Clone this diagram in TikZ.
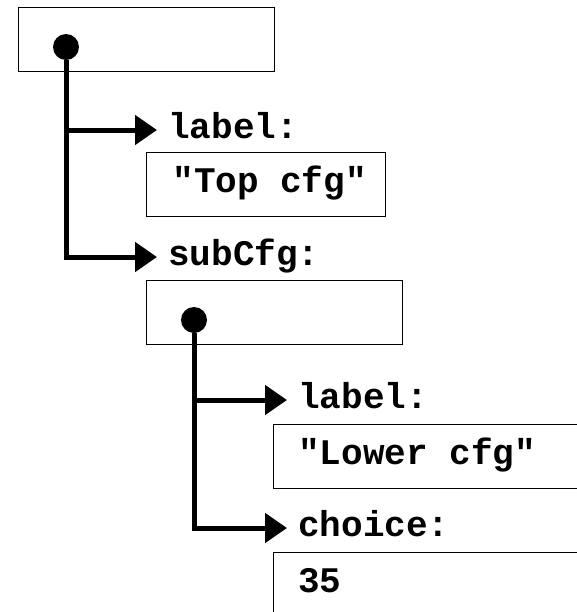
\documentclass[tikz,border=0pt]{standalone}
\usepackage{fontspec}
\setmonofont{Liberation Mono}
\usetikzlibrary{arrows.meta}

\begin{document}
\begin{tikzpicture}[x=0.5pt,y=-0.5pt,
    cell/.style={draw,line width=0.7pt,anchor=north west,minimum height=32pt,inner sep=0pt},
    dot/.style={circle,fill,inner sep=0pt,minimum size=13pt},
    mono/.style={font=\fontsize{18}{20}\selectfont\ttfamily\bfseries,text height=11pt,text depth=3pt,anchor=west},
    field/.style={mono,inner xsep=5.5pt,inner ysep=0pt},
    val/.style={mono,inner sep=0pt},
    link/.style={line width=2.5pt,-{Triangle[length=11pt,width=14.5pt]}}]
  %bildeflate
  	\clip (0,0) rectangle (577,612);

  %ytre cfg
  	\node[cell,minimum width=128pt] (topcfg) at (18,7) {};
  	\node[dot] (topdot) at (66,47) {};

  %felt label
  	\node[field] (toplabel) at (157,130) {label:};
  	\node[cell,minimum width=119.5pt] (topval) at (146,152) {};
  	\node[val] (toptxt) at ([xshift=13pt]topval.west) {"Top cfg"};

  %felt subCfg
  	\node[field] (topsub) at (157,257) {subCfg:};
  	\node[cell,minimum width=128pt] (subcfg) at (146,280) {};
  	\node[dot] (subdot) at (194,320) {};

  %indre felt label
  	\node[field] (sublabel) at (287,400) {label:};
  	\node[cell,minimum width=170pt] (subval) at (273,424) {};
  	\node[val] (subtxt) at ([xshift=12.5pt]subval.west) {"Lower cfg"};

  %indre felt choice
  	\node[field] (subchoice) at (287,528) {choice:};
  	\node[cell,minimum width=170pt] (choiceval) at (273,552) {};
  	\node[val] (choicetxt) at ([xshift=12.5pt]choiceval.west) {35};

  %piler
  	\draw[link] (topdot) |- (toplabel.west);
  	\draw[link] (topdot) |- (topsub.west);
  	\draw[link] (subdot) |- (sublabel.west);
  	\draw[link] (subdot) |- (subchoice.west);
\end{tikzpicture}
\end{document}
